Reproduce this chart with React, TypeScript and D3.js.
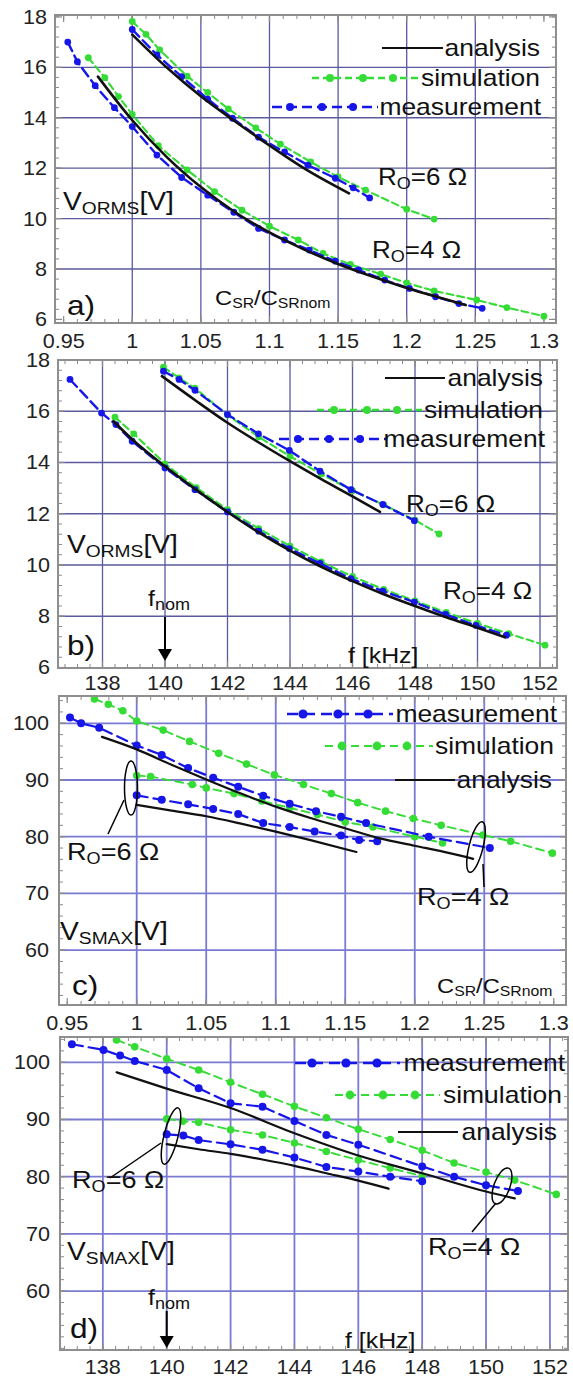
import React from 'react';
import * as d3 from 'd3';

type Pt = [number, number];

// ---------- tick labels ----------
const csrTicks = [0.95, 1, 1.05, 1.1, 1.15, 1.2, 1.25, 1.3];
const csrGrid = [1, 1.05, 1.1, 1.15, 1.2, 1.25];
const freqTicks = [138, 140, 142, 144, 146, 148, 150, 152];
const freqGrid = [138, 140, 142, 144, 146, 148, 150, 152];
const vormsTicks = [6, 8, 10, 12, 14, 16, 18];
const vormsGrid = [8, 10, 12, 14, 16];
const vsmaxTicks = [60, 70, 80, 90, 100];
const vsmaxGrid = [60, 70, 80, 90, 100];

// ---------- panel a : V_ORMS vs C_SR/C_SRnom ----------
const aMeas4: Pt[] = [[0.953,17.0],[0.960,16.22],[0.973,15.27],[0.987,14.4],[1.0,13.65],[1.018,12.52],[1.036,11.63],[1.055,10.93],[1.074,10.25],[1.092,9.61],[1.111,9.15],[1.129,8.75],[1.148,8.31],[1.165,7.96],[1.184,7.56],[1.202,7.23],[1.221,6.9],[1.238,6.63],[1.255,6.44]];
const aSim4: Pt[] = [[0.968,16.38],[0.980,15.59],[0.990,14.84],[1.0,14.13],[1.019,12.89],[1.040,11.93],[1.060,11.07],[1.080,10.33],[1.100,9.7],[1.121,9.15],[1.139,8.62],[1.159,8.18],[1.181,7.8],[1.200,7.45],[1.220,7.13],[1.251,6.77],[1.273,6.47],[1.30,6.13]];
const aAna4: Pt[] = [[0.975,15.63],[1.0,13.9],[1.025,12.45],[1.05,11.25],[1.075,10.25],[1.1,9.45],[1.125,8.78],[1.15,8.2],[1.175,7.7],[1.2,7.25],[1.225,6.85],[1.243,6.57]];
const aMeas6: Pt[] = [[1.0,17.5],[1.018,16.49],[1.036,15.63],[1.055,14.74],[1.073,13.98],[1.092,13.23],[1.111,12.64],[1.128,12.12],[1.148,11.6],[1.161,11.22],[1.173,10.82]];
const aSim6: Pt[] = [[1.0,17.82],[1.01,17.31],[1.02,16.69],[1.04,15.65],[1.055,15.0],[1.07,14.35],[1.09,13.6],[1.108,12.95],[1.13,12.25],[1.15,11.65],[1.17,11.13],[1.2,10.37],[1.22,9.98]];
const aAna6: Pt[] = [[1.0,17.3],[1.025,16.0],[1.05,14.85],[1.075,13.85],[1.1,12.9],[1.125,12.0],[1.158,11.0]];

// ---------- panel b : V_ORMS vs f ----------
const bMeas4: Pt[] = [[136.96,17.24],[137.97,15.93],[138.43,15.48],[138.95,14.83],[140,13.79],[140.96,12.94],[142,12.07],[143,11.32],[143.98,10.64],[144.96,10.06],[145.95,9.47],[146.97,8.98],[147.98,8.55],[148.98,8.07],[149.95,7.64],[150.93,7.26]];
const bSim4: Pt[] = [[138.4,15.77],[139,15.12],[140,13.95],[141,13.02],[142,12.16],[143,11.42],[144,10.74],[145,10.12],[146,9.55],[147,9.05],[148,8.6],[149,8.15],[150,7.72],[151,7.32],[152.16,6.87]];
const bAna4: Pt[] = [[138.35,15.61],[139,14.85],[140,13.85],[141,12.93],[142,12.07],[143,11.27],[144,10.56],[145,9.93],[146,9.37],[147,8.86],[148,8.4],[149,7.96],[150,7.55],[150.88,7.18]];
const bMeas6: Pt[] = [[139.95,17.56],[140.45,17.24],[140.96,16.82],[142,15.87],[142.99,15.12],[143.98,14.47],[144.96,13.66],[145.95,12.94],[146.97,12.36],[147.98,11.73]];
const bSim6: Pt[] = [[139.95,17.72],[140.45,17.3],[140.96,16.9],[142,15.85],[143,15.0],[144,14.24],[145,13.55],[146,12.9],[147,12.35],[148,11.75],[148.77,11.21]];
const bAna6: Pt[] = [[139.9,17.37],[141,16.4],[142,15.55],[143,14.78],[144,14.05],[145,13.35],[146,12.68],[146.88,12.07]];

// ---------- panel c : V_SMAX vs C_SR/C_SRnom ----------
const cSim4: Pt[] = [[0.9696,104.3],[0.9796,103.35],[0.990,102.2],[1.0,100.4],[1.019,98.8],[1.038,96.8],[1.059,94.7],[1.079,92.8],[1.099,90.9],[1.12,89.2],[1.14,87.6],[1.159,86.0],[1.179,84.5],[1.199,83.2],[1.219,82.0],[1.249,80.3],[1.269,79.2],[1.299,77.1]];
const cMeas4: Pt[] = [[0.952,101.0],[0.960,100.0],[0.973,99.2],[1.0,96.1],[1.018,94.4],[1.037,92.1],[1.055,90.4],[1.073,88.8],[1.091,87.2],[1.110,85.8],[1.129,84.5],[1.147,83.5],[1.165,82.4],[1.21,80.0],[1.254,78.0]];
const cAna4: Pt[] = [[0.975,97.6],[1.0,95.4],[1.025,92.7],[1.05,90.1],[1.075,87.6],[1.1,85.3],[1.125,83.3],[1.15,81.5],[1.175,79.7],[1.2,78.4],[1.225,77.1],[1.242,76.1]];
const cSim6: Pt[] = [[1.0,90.8],[1.01,90.6],[1.04,89.2],[1.05,88.6],[1.07,87.6],[1.09,86.3],[1.11,85.1],[1.13,83.9],[1.15,82.6],[1.17,81.7],[1.20,80.0],[1.22,78.9]];
const cMeas6: Pt[] = [[1.0,87.3],[1.018,86.5],[1.037,85.7],[1.055,84.9],[1.073,84.0],[1.091,82.4],[1.110,81.7],[1.128,80.9],[1.147,80.2],[1.160,79.4],[1.173,79.2]];
const cAna6: Pt[] = [[1.0,85.6],[1.025,84.6],[1.05,83.6],[1.075,82.3],[1.1,80.9],[1.125,79.4],[1.158,77.3]];

// ---------- panel d : V_SMAX vs f ----------
const dMeas4: Pt[] = [[137.03,103.15],[138.02,102.16],[138.54,101.17],[139,100.23],[140,98.66],[141,95.45],[142,92.83],[143,92.24],[144,89.75],[145,87.3],[146,85.6],[148,81.8],[149,80.0],[150,78.5],[151,77.5]];
const dSim4: Pt[] = [[138.43,103.9],[139,102.7],[140,100.6],[141,98.66],[142,96.5],[143,94.4],[144,92.3],[145,90.3],[146,88.3],[147,86.5],[148,84.6],[149,82.4],[150,80.8],[150.9,79.4],[152.2,76.9]];
const dAna4: Pt[] = [[138.43,98.25],[140,95.4],[142,92.0],[144,87.6],[146,83.7],[148,80.6],[150,77.4],[150.9,76.2]];
const dSim6: Pt[] = [[140,90.1],[140.5,89.7],[141,89.5],[142,88.2],[143,87.3],[144,85.9],[145,84.4],[146,82.9],[147,81.5],[148,80.1]];
const dMeas6: Pt[] = [[140,87.4],[140.52,87.2],[141,86.4],[142,85.65],[143,84.7],[144,83.35],[145,81.7],[146,80.9],[147,80.0],[148,79.2]];
const dAna6: Pt[] = [[140,85.7],[141,84.8],[142,84.0],[143,83.0],[144,81.9],[145,80.6],[146,79.3],[146.95,77.9]];

const legendNames = ['analysis', 'simulation', 'measurement'];

const FONT = "'Liberation Sans', Arial, Helvetica, sans-serif";
const BLUE = '#1616e8';
const GREEN = '#36dc36';
const BLACK = '#111111';
const FRAME = '#8e8e8e';

type Part = { t: string; sub?: boolean };

function T({ x, y, size, parts, anchor = 'start', sx = 1.13, subSize, subDy = 4, fill = '#111' }:
  { x: number; y: number; size: number; parts: Part[] | string; anchor?: string; sx?: number; subSize?: number; subDy?: number; fill?: string }) {
  const ps: Part[] = typeof parts === 'string' ? [{ t: parts }] : parts;
  const ss = subSize ?? Math.round(size * 0.66);
  let cur = 0;
  return (
    <g transform={`translate(${x},${y}) scale(${sx},1)`}>
      <text fontFamily={FONT} fontSize={size} textAnchor={anchor} fill={fill}>
        {ps.map((p, i) => {
          const target = p.sub ? subDy : 0;
          const dy = target - cur;
          cur = target;
          return (
            <tspan key={i} dy={dy} fontSize={p.sub ? ss : size}>{p.t}</tspan>
          );
        })}
      </text>
    </g>
  );
}

type Series = { data: Pt[]; kind: 'meas' | 'sim' | 'ana' };
type Legend = { y: number[]; lines: [number, number][]; marks: number[][]; textEnd: number[] };
type PanelCfg = {
  left: number; right: number; top: number; bottom: number;
  xd: [number, number]; yd: [number, number];
  xTicks: number[]; yTicks: number[]; xGrid: number[]; yGrid: number[];
  xMinor: number; yMinor: number; xLabDy: number; yLabDx: number;
  gridColor: string; gridW: number; big: boolean;
  series: Series[];
  legend: Legend;
};

const panels: PanelCfg[] = [
  {
    left: 55, right: 556, top: 15, bottom: 323, xd: [0.9437, 1.3088], yd: [5.858, 18.075],
    xTicks: csrTicks, yTicks: vormsTicks, xGrid: csrGrid, yGrid: vormsGrid,
    xMinor: 0.01, yMinor: 0.4, xLabDy: 25, yLabDx: -8, gridColor: '#5a5a9e', gridW: 1.3, big: false,
    series: [
      { data: aSim4, kind: 'sim' }, { data: aSim6, kind: 'sim' },
      { data: aMeas4, kind: 'meas' }, { data: aMeas6, kind: 'meas' },
      { data: aAna4, kind: 'ana' }, { data: aAna6, kind: 'ana' },
    ],
    legend: { y: [48, 78, 107], lines: [[382, 443], [312, 420], [272, 378]], marks: [[], [330, 363, 393], [290, 322, 353]], textEnd: [540, 540, 541] },
  },
  {
    left: 58, right: 557, top: 360, bottom: 668, xd: [136.576, 152.544], yd: [5.98, 18.0],
    xTicks: freqTicks, yTicks: vormsTicks, xGrid: freqGrid, yGrid: vormsGrid,
    xMinor: 0.4, yMinor: 0.4, xLabDy: 22, yLabDx: -8, gridColor: '#5a5a9e', gridW: 1.3, big: false,
    series: [
      { data: bSim4, kind: 'sim' }, { data: bSim6, kind: 'sim' },
      { data: bMeas4, kind: 'meas' }, { data: bMeas6, kind: 'meas' },
      { data: bAna4, kind: 'ana' }, { data: bAna6, kind: 'ana' },
    ],
    legend: { y: [378, 410, 439], lines: [[385, 445], [317, 422], [279, 387]], marks: [[], [334, 367, 397], [298, 329, 360]], textEnd: [543, 543, 545] },
  },
  {
    left: 59, right: 566, top: 696, bottom: 1005, xd: [0.9441, 1.3088], yd: [50.32, 104.81],
    xTicks: csrTicks, yTicks: vsmaxTicks, xGrid: csrGrid, yGrid: vsmaxGrid,
    xMinor: 0.01, yMinor: 2, xLabDy: 25, yLabDx: -10, gridColor: '#7a7ad2', gridW: 1.8, big: true,
    series: [
      { data: cSim4, kind: 'sim' }, { data: cSim6, kind: 'sim' },
      { data: cMeas4, kind: 'meas' }, { data: cMeas6, kind: 'meas' },
      { data: cAna4, kind: 'ana' }, { data: cAna6, kind: 'ana' },
    ],
    legend: { y: [780, 746, 714], lines: [[395, 455], [325, 433], [287, 393]], marks: [[], [342, 377, 407], [303, 338, 368]], textEnd: [552, 554, 557] },
  },
  {
    left: 60, right: 568, top: 1037, bottom: 1350, xd: [136.658, 152.567], yd: [49.7, 104.42],
    xTicks: freqTicks, yTicks: vsmaxTicks, xGrid: freqGrid, yGrid: vsmaxGrid,
    xMinor: 0.4, yMinor: 2, xLabDy: 24, yLabDx: -10, gridColor: '#7a7ad2', gridW: 1.8, big: true,
    series: [
      { data: dSim4, kind: 'sim' }, { data: dSim6, kind: 'sim' },
      { data: dMeas4, kind: 'meas' }, { data: dMeas6, kind: 'meas' },
      { data: dAna4, kind: 'ana' }, { data: dAna6, kind: 'ana' },
    ],
    legend: { y: [1132, 1095, 1063], lines: [[398, 458], [335, 440], [295, 400]], marks: [[], [350, 383, 415], [312, 346, 377]], textEnd: [557, 562, 565] },
  },
];

function styleOf(kind: string, big: boolean) {
  if (kind === 'ana') return { stroke: BLACK, w: big ? 2.2 : 2.6, dash: undefined as string | undefined, r: 0 };
  if (kind === 'meas') return { stroke: BLUE, w: big ? 2.2 : 2.4, dash: big ? '11,6' : '10,5', r: big ? 4 : 3.4 };
  return { stroke: GREEN, w: big ? 1.9 : 2.1, dash: big ? '8,5' : '7,4', r: big ? 3.8 : 3.4 };
}

function minorVals(d: [number, number], step: number) {
  const out: number[] = [];
  const start = Math.ceil(d[0] / step - 1e-9);
  const end = Math.floor(d[1] / step + 1e-9);
  for (let i = start; i <= end; i++) out.push(+(i * step).toFixed(6));
  return out;
}

function Panel({ p }: { p: PanelCfg }) {
  const xs = d3.scaleLinear().domain(p.xd).range([p.left, p.right]);
  const ys = d3.scaleLinear().domain(p.yd).range([p.bottom, p.top]);
  const lin = d3.line<Pt>().x(d => xs(d[0])).y(d => ys(d[1]));
  const smooth = d3.line<Pt>().x(d => xs(d[0])).y(d => ys(d[1])).curve(d3.curveMonotoneX);
  const xm = minorVals(p.xd, p.xMinor);
  const ym = minorVals(p.yd, p.yMinor);
  const inX = (v: number) => xs(v) >= p.left - 0.5 && xs(v) <= p.right + 0.5;
  const inY = (v: number) => ys(v) <= p.bottom + 0.5 && ys(v) >= p.top - 0.5;
  const tickC = '#8a8a8a';
  return (
    <g>
      <rect x={p.left} y={p.top} width={p.right - p.left} height={p.bottom - p.top} fill="#ffffff" />
      {/* grid */}
      {p.xGrid.filter(inX).map(v => (
        <line key={'gx' + v} x1={xs(v)} x2={xs(v)} y1={p.top} y2={p.bottom} stroke={p.gridColor} strokeWidth={p.gridW} />
      ))}
      {p.yGrid.filter(inY).map(v => (
        <line key={'gy' + v} x1={p.left} x2={p.right} y1={ys(v)} y2={ys(v)} stroke={p.gridColor} strokeWidth={p.gridW} />
      ))}
      {/* minor ticks */}
      {xm.filter(inX).map(v => (
        <g key={'mx' + v}>
          <line x1={xs(v)} x2={xs(v)} y1={p.top} y2={p.top + 4} stroke={tickC} strokeWidth={1} />
          <line x1={xs(v)} x2={xs(v)} y1={p.bottom} y2={p.bottom - 4} stroke={tickC} strokeWidth={1} />
        </g>
      ))}
      {ym.filter(inY).map(v => (
        <g key={'my' + v}>
          <line x1={p.left} x2={p.left + 4} y1={ys(v)} y2={ys(v)} stroke={tickC} strokeWidth={1} />
          <line x1={p.right} x2={p.right - 4} y1={ys(v)} y2={ys(v)} stroke={tickC} strokeWidth={1} />
        </g>
      ))}
      {p.xTicks.filter(inX).map(v => (
        <g key={'Mx' + v}>
          <line x1={xs(v)} x2={xs(v)} y1={p.top} y2={p.top + 7} stroke={tickC} strokeWidth={1.2} />
          <line x1={xs(v)} x2={xs(v)} y1={p.bottom} y2={p.bottom - 7} stroke={tickC} strokeWidth={1.2} />
        </g>
      ))}
      {p.yTicks.filter(inY).map(v => (
        <g key={'My' + v}>
          <line x1={p.left} x2={p.left + 7} y1={ys(v)} y2={ys(v)} stroke={tickC} strokeWidth={1.2} />
          <line x1={p.right} x2={p.right - 7} y1={ys(v)} y2={ys(v)} stroke={tickC} strokeWidth={1.2} />
        </g>
      ))}
      {/* series */}
      {p.series.map((s, i) => {
        const st = styleOf(s.kind, p.big);
        return (
          <g key={'s' + i}>
            <path d={(s.kind === 'ana' ? smooth : lin)(s.data) || ''} fill="none" stroke={st.stroke} strokeWidth={st.w}
              strokeDasharray={st.dash} strokeLinecap="round" strokeLinejoin="round" />
            {st.r > 0 && s.data.map((d, j) => (
              <circle key={j} cx={xs(d[0])} cy={ys(d[1])} r={st.r} fill={st.stroke} />
            ))}
          </g>
        );
      })}
      {/* legend */}
      {legendNames.map((name, i) => {
        const kind = i === 0 ? 'ana' : i === 1 ? 'sim' : 'meas';
        const st = styleOf(kind, p.big);
        const y = p.legend.y[i];
        const [x1, x2] = p.legend.lines[i];
        return (
          <g key={'lg' + i}>
            <line x1={x1} x2={x2} y1={y} y2={y} stroke={st.stroke} strokeWidth={kind === 'ana' ? 2 : st.w + 0.3} strokeDasharray={st.dash} />
            {p.legend.marks[i].map(mx => <circle key={mx} cx={mx} cy={y} r={st.r + 0.6} fill={st.stroke} />)}
            <T x={p.legend.textEnd[i]} y={y + 8} size={23} parts={name} anchor="end" sx={1.15} />
          </g>
        );
      })}
      {/* frame */}
      <rect x={p.left} y={p.top} width={p.right - p.left} height={p.bottom - p.top} fill="none" stroke={FRAME} strokeWidth={2} />
      {/* tick labels */}
      {p.xTicks.map(v => (
        <T key={'lx' + v} x={xs(v)} y={p.bottom + p.xLabDy} size={20} parts={String(v)} anchor="middle" sx={1.08} fill="#222" />
      ))}
      {p.yTicks.map(v => (
        <T key={'ly' + v} x={p.left + p.yLabDx} y={ys(v) + 7} size={20} parts={String(v)} anchor="end" sx={1.08} fill="#222" />
      ))}
    </g>
  );
}

const RO6: Part[] = [{ t: 'R' }, { t: 'O', sub: true }, { t: '=6 Ω' }];
const RO4: Part[] = [{ t: 'R' }, { t: 'O', sub: true }, { t: '=4 Ω' }];
const VORMS: Part[] = [{ t: 'V' }, { t: 'ORMS', sub: true }, { t: '[V]' }];
const VSMAX: Part[] = [{ t: 'V' }, { t: 'SMAX', sub: true }, { t: '[V]' }];
const CSR: Part[] = [{ t: 'C' }, { t: 'SR', sub: true }, { t: '/C' }, { t: 'SRnom', sub: true }];
const FNOM: Part[] = [{ t: 'f' }, { t: 'nom', sub: true }];

function Arrow({ x, y1, y2 }: { x: number; y1: number; y2: number }) {
  return (
    <g>
      <line x1={x} x2={x} y1={y1} y2={y2 - 10} stroke="#000" strokeWidth={2} />
      <polygon points={`${x - 7},${y2 - 12} ${x + 7},${y2 - 12} ${x},${y2}`} fill="#000" />
    </g>
  );
}

export default function App() {
  const xb = d3.scaleLinear().domain(panels[1].xd).range([panels[1].left, panels[1].right]);
  const xdd = d3.scaleLinear().domain(panels[3].xd).range([panels[3].left, panels[3].right]);
  return (
    <svg width={573} height={1379} style={{ position: 'absolute', left: 0, top: 0, background: '#fff' }}>
      <rect x={0} y={0} width={573} height={1379} fill="#fff" />
      {panels.map((p, i) => <Panel key={i} p={p} />)}

      {/* panel a annotations */}
      <T x={63} y={210} size={25} parts={VORMS} subSize={17} />
      <T x={67} y={315} size={28} parts="a)" />
      <T x={215} y={305} size={21} parts={CSR} subSize={14} subDy={3} />
      <T x={378} y={185} size={23} parts={RO6} subSize={16} />
      <T x={372} y={258} size={23} parts={RO4} subSize={16} />

      {/* panel b annotations */}
      <T x={67} y={553} size={25} parts={VORMS} subSize={17} />
      <T x={67} y={655} size={28} parts="b)" />
      <T x={148} y={606} size={22} parts={FNOM} subSize={16} />
      <Arrow x={xb(140)} y1={617} y2={661} />
      <T x={348} y={663} size={22} parts="f [kHz]" />
      <T x={406} y={512} size={23} parts={RO6} subSize={16} />
      <T x={443} y={599} size={23} parts={RO4} subSize={16} />

      {/* panel c annotations */}
      <ellipse cx={131} cy={788} rx={6.5} ry={27} fill="none" stroke="#000" strokeWidth={1.5} />
      <line x1={124} y1={800} x2={108} y2={834} stroke="#000" strokeWidth={1.5} />
      <T x={67} y={860} size={24} parts={RO6} subSize={16} />
      <T x={60} y={940} size={25} parts={VSMAX} subSize={17} />
      <T x={72} y={995} size={28} parts="c)" />
      <ellipse cx={476} cy={847} rx={7} ry={26} fill="none" stroke="#000" strokeWidth={1.5} transform="rotate(14,476,847)" />
      <line x1={483} y1={864} x2={484} y2={887} stroke="#000" strokeWidth={1.5} />
      <T x={417} y={905} size={24} parts={RO4} subSize={16} />
      <T x={437} y={993} size={21} parts={CSR} subSize={14} subDy={3} />

      {/* panel d annotations */}
      <ellipse cx={171} cy={1136} rx={7} ry={29} fill="none" stroke="#000" strokeWidth={1.5} transform="rotate(14,171,1136)" />
      <line x1={161} y1={1143} x2={110} y2={1178} stroke="#000" strokeWidth={1.5} />
      <T x={72} y={1188} size={24} parts={RO6} subSize={16} />
      <T x={67} y={1260} size={25} parts={VSMAX} subSize={17} />
      <T x={70} y={1338} size={28} parts="d)" />
      <T x={148} y={1305} size={22} parts={FNOM} subSize={16} />
      <Arrow x={xdd(140)} y1={1311} y2={1348} />
      <T x={345} y={1348} size={22} parts="f [kHz]" />
      <ellipse cx={502} cy={1186} rx={8} ry={19} fill="none" stroke="#000" strokeWidth={1.5} transform="rotate(20,502,1186)" />
      <line x1={496} y1={1203} x2={472} y2={1232} stroke="#000" strokeWidth={1.5} />
      <T x={428} y={1255} size={24} parts={RO4} subSize={16} />
    </svg>
  );
}
